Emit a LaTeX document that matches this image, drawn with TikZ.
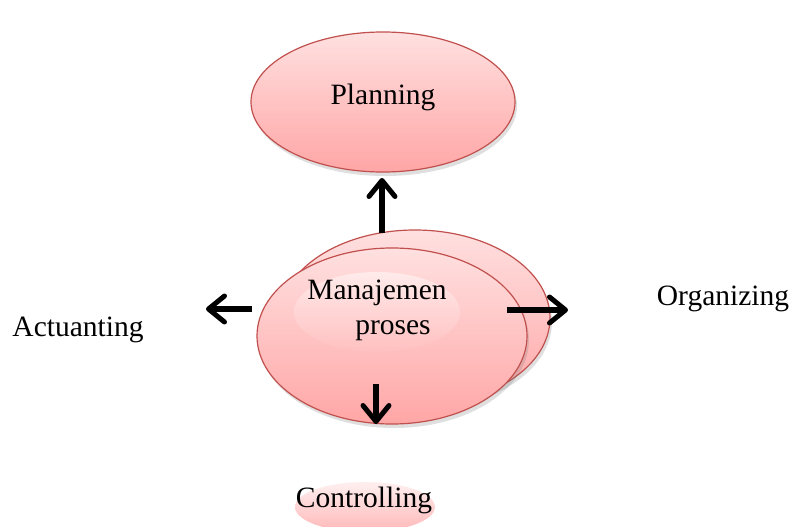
\documentclass[tikz,border=0pt]{standalone}
\usepackage{fontspec}
\setmainfont{Liberation Serif}
\usetikzlibrary{shapes.geometric,arrows.meta,shadows}
\definecolor{edgered}{RGB}{192,80,77}
\definecolor{pinktop}{RGB}{255,224,224}
\definecolor{pinkbot}{RGB}{255,166,166}
\tikzset{
  bubble/.style={ellipse, draw=edgered, line width=1.2pt, inner sep=0pt,
    top color=pinktop, bottom color=pinkbot,
    drop shadow={opacity=0.25, shadow xshift=2pt, shadow yshift=-4pt}},
  glow/.style={ellipse, inner sep=0pt, draw=none,
    top color=pinktop!60!white, bottom color=pinkbot!70!white, opacity=0.9},
  label/.style={font=\fontsize{29.5}{35}\selectfont, inner sep=0pt, align=center},
  bigarrow/.style={line width=5.5pt,
    -{Straight Barb[length=16pt, width=26pt, line width=5pt, round]}}
}
\begin{document}
\begin{tikzpicture}[x=1pt, y=-1pt]
\useasboundingbox (0,0) rectangle (790,527);
% Planning
\node[bubble, minimum width=264pt, minimum height=140pt] (plan) at (383,102) {};
\node[label] (plant) at (383,97) {Planning};
% central stack
\node[bubble, minimum width=270pt, minimum height=176pt] (back) at (415,318) {};
\node[bubble, minimum width=270pt, minimum height=176pt] (front) at (392,336) {};
\node[glow, minimum width=166pt, minimum height=80pt] (hl) at (377,312) {};
\node[label] (mp) at (377,310) {Manajemen\\\hspace*{32pt}proses};
% labels
\node[label] (act) at (78,330) {Actuanting};
\node[label] (org) at (723,299) {Organizing};
\begin{scope}
\clip (0,0) rectangle (790,527);
\node[ellipse, inner sep=0pt, minimum width=140pt, minimum height=50pt,
  top color=pinktop!50!white, bottom color=pinkbot!80!white] (ctrlbg) at (365,507) {};
\end{scope}
\node[label] (ctrl) at (364,500) {Controlling};
% arrows
\coordinate (upS) at (382,233);
\coordinate (upE) at (382,178);
\coordinate (lS) at (252,309);
\coordinate (lE) at (206,309);
\coordinate (rS) at (507,310);
\coordinate (rE) at (568,310);
\coordinate (dS) at (376,384);
\coordinate (dE) at (376,424);
\draw[bigarrow] (upS) -- (upE);
\draw[bigarrow] (lS) -- (lE);
\draw[bigarrow] (rS) -- (rE);
\draw[bigarrow] (dS) -- (dE);
\end{tikzpicture}
\end{document}
